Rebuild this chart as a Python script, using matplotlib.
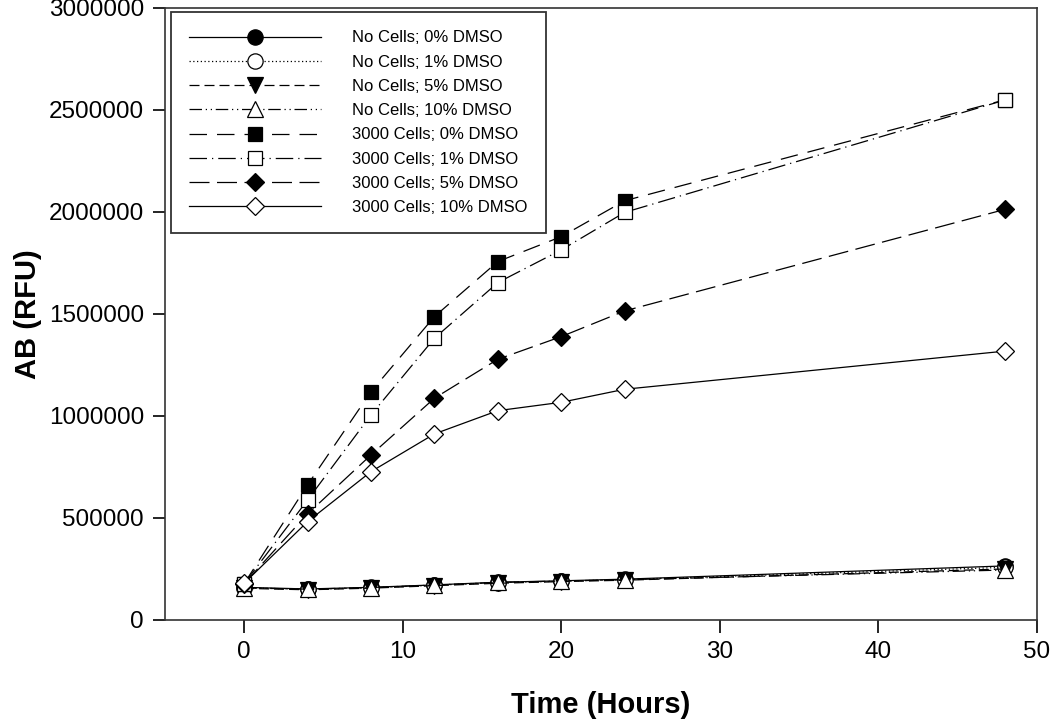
"""AB (RFU) over time for cell-free and 3000-cell wells at four DMSO levels."""

import matplotlib

matplotlib.use("Agg")

import matplotlib.pyplot as plt

plt.rcParams["font.family"] = ["Liberation Sans", "DejaVu Sans"]

# ---------------------------------------------------------------------------
# Data
# ---------------------------------------------------------------------------

hours = [0, 4, 8, 12, 16, 20, 24, 48]

no_cells_0 = [160000, 152000, 160000, 172000, 185000, 192000, 200000, 265000]
no_cells_1 = [158000, 150000, 158000, 170000, 183000, 190000, 198000, 258000]
no_cells_5 = [155000, 148000, 156000, 168000, 180000, 188000, 195000, 250000]
no_cells_10 = [157000, 151000, 159000, 171000, 184000, 191000, 197000, 245000]

cells_0 = [178000, 662000, 1119000, 1487000, 1757000, 1879000, 2055000, 2550000]
cells_1 = [178000, 588000, 1005000, 1381000, 1654000, 1814000, 1998000, 2549000]
cells_5 = [178000, 520000, 809000, 1087000, 1278000, 1389000, 1515000, 2013000]
cells_10 = [180000, 482000, 727000, 912000, 1026000, 1067000, 1131000, 1318000]

labels = [
    "No Cells; 0% DMSO",
    "No Cells; 1% DMSO",
    "No Cells; 5% DMSO",
    "No Cells; 10% DMSO",
    "3000 Cells; 0% DMSO",
    "3000 Cells; 1% DMSO",
    "3000 Cells; 5% DMSO",
    "3000 Cells; 10% DMSO",
]

series = [no_cells_0, no_cells_1, no_cells_5, no_cells_10,
          cells_0, cells_1, cells_5, cells_10]

# (marker, filled, linestyle, markersize)
styles = [
    ("o", True, "-", 11),
    ("o", False, (0, (1, 2)), 11),
    ("v", True, (0, (8, 4)), 11),
    ("^", False, (0, (10, 3, 1, 3, 1, 3)), 11),
    ("s", True, (0, (14, 8)), 10),
    ("s", False, (0, (14, 4, 1, 4)), 10),
    ("D", True, (0, (16, 6)), 9),
    ("D", False, "-", 9),
]

# ---------------------------------------------------------------------------
# Figure
# ---------------------------------------------------------------------------

fig = plt.figure(figsize=(10.5, 7.23), dpi=100)
ax = fig.add_axes([0.157, 0.1425, 0.8306, 0.8465])

for y, lab, (mk, filled, ls, ms) in zip(series, labels, styles):
    ax.plot(
        hours, y,
        color="black", linewidth=0.9, linestyle=ls,
        marker=mk, markersize=ms,
        markerfacecolor="black" if filled else "white",
        markeredgecolor="black", markeredgewidth=0.9,
        label=lab,
    )

ax.set_xlim(-5, 50)
ax.set_ylim(0, 3000000)
ax.set_xticks([0, 10, 20, 30, 40, 50])
ax.set_yticks([0, 500000, 1000000, 1500000, 2000000, 2500000, 3000000])
ax.set_yticklabels([f"{v:d}" for v in ax.get_yticks().astype(int)])

ax.tick_params(direction="out", length=9, width=1.2, labelsize=17.5,
               top=False, right=False, pad=6)
for sp in ax.spines.values():
    sp.set_linewidth(1.2)
    sp.set_color("#333333")

ax.set_xlabel("Time (Hours)", fontsize=21, fontweight="bold", labelpad=20)
ax.set_ylabel("AB (RFU)", fontsize=21, fontweight="bold", labelpad=5)

leg = ax.legend(
    loc="upper left", bbox_to_anchor=(171 / 1050, 1 - 12 / 723),
    bbox_transform=fig.transFigure,
    fontsize=12, handlelength=7.9, handletextpad=1.85,
    labelspacing=0.555, borderpad=1.1, borderaxespad=0,
    fancybox=False, framealpha=1, edgecolor="#333333",
)
leg.get_frame().set_linewidth(1.3)

fig.savefig("out.png", dpi=100)
